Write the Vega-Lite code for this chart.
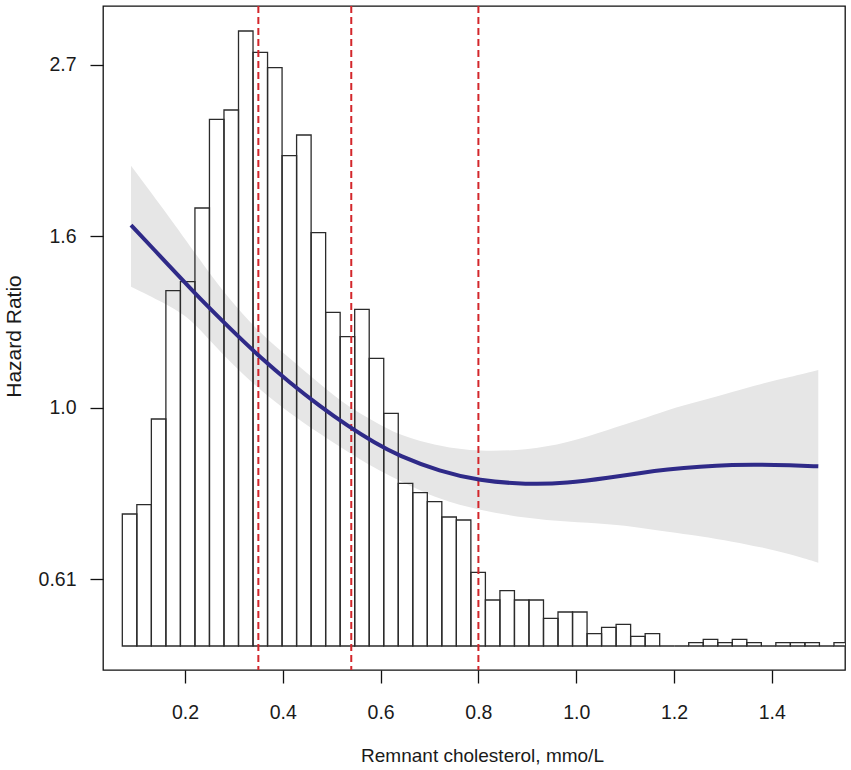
{
  "$schema": "https://vega.github.io/schema/vega-lite/v6.json",
  "width": 742,
  "height": 664,
  "autosize": "none",
  "padding": {"left": 103, "top": 6, "right": 6, "bottom": 100},
  "background": "white",
  "datasets": {
    "bins": [
      {"bin_start": 0.0718, "bin_end": 0.1015, "count": 132},
      {"bin_start": 0.1015, "bin_end": 0.1312, "count": 141.3},
      {"bin_start": 0.1312, "bin_end": 0.1609, "count": 227},
      {"bin_start": 0.1609, "bin_end": 0.1906, "count": 355.3},
      {"bin_start": 0.1906, "bin_end": 0.2203, "count": 364.3},
      {"bin_start": 0.2203, "bin_end": 0.25, "count": 438},
      {"bin_start": 0.25, "bin_end": 0.2797, "count": 526.7},
      {"bin_start": 0.2797, "bin_end": 0.3094, "count": 536},
      {"bin_start": 0.3094, "bin_end": 0.3391, "count": 615},
      {"bin_start": 0.3391, "bin_end": 0.3688, "count": 593.7},
      {"bin_start": 0.3688, "bin_end": 0.3985, "count": 578.3},
      {"bin_start": 0.3985, "bin_end": 0.4282, "count": 490.3},
      {"bin_start": 0.4282, "bin_end": 0.4579, "count": 511},
      {"bin_start": 0.4579, "bin_end": 0.4876, "count": 413.3},
      {"bin_start": 0.4876, "bin_end": 0.5173, "count": 333.7},
      {"bin_start": 0.5173, "bin_end": 0.547, "count": 309.3},
      {"bin_start": 0.547, "bin_end": 0.5767, "count": 336.7},
      {"bin_start": 0.5767, "bin_end": 0.6064, "count": 287.7},
      {"bin_start": 0.6064, "bin_end": 0.6361, "count": 232.7},
      {"bin_start": 0.6361, "bin_end": 0.6658, "count": 162.7},
      {"bin_start": 0.6658, "bin_end": 0.6955, "count": 153.3},
      {"bin_start": 0.6955, "bin_end": 0.7252, "count": 144.3},
      {"bin_start": 0.7252, "bin_end": 0.7549, "count": 129},
      {"bin_start": 0.7549, "bin_end": 0.7846, "count": 126},
      {"bin_start": 0.7846, "bin_end": 0.8143, "count": 73.7},
      {"bin_start": 0.8143, "bin_end": 0.844, "count": 46},
      {"bin_start": 0.844, "bin_end": 0.8737, "count": 55.3},
      {"bin_start": 0.8737, "bin_end": 0.9034, "count": 46},
      {"bin_start": 0.9034, "bin_end": 0.9331, "count": 46},
      {"bin_start": 0.9331, "bin_end": 0.9628, "count": 27.7},
      {"bin_start": 0.9628, "bin_end": 0.9925, "count": 34},
      {"bin_start": 0.9925, "bin_end": 1.0222, "count": 34},
      {"bin_start": 1.0222, "bin_end": 1.0519, "count": 12.3},
      {"bin_start": 1.0519, "bin_end": 1.0816, "count": 18.7},
      {"bin_start": 1.0816, "bin_end": 1.1113, "count": 21.7},
      {"bin_start": 1.1113, "bin_end": 1.141, "count": 9.7},
      {"bin_start": 1.141, "bin_end": 1.1707, "count": 12.3},
      {"bin_start": 1.1707, "bin_end": 1.2004, "count": 0},
      {"bin_start": 1.2004, "bin_end": 1.2301, "count": 0},
      {"bin_start": 1.2301, "bin_end": 1.2598, "count": 3.3},
      {"bin_start": 1.2598, "bin_end": 1.2895, "count": 6.7},
      {"bin_start": 1.2895, "bin_end": 1.3192, "count": 3.3},
      {"bin_start": 1.3192, "bin_end": 1.3489, "count": 6.7},
      {"bin_start": 1.3489, "bin_end": 1.3786, "count": 3.3},
      {"bin_start": 1.3786, "bin_end": 1.4083, "count": 0},
      {"bin_start": 1.4083, "bin_end": 1.438, "count": 3.3},
      {"bin_start": 1.438, "bin_end": 1.4677, "count": 3.3},
      {"bin_start": 1.4677, "bin_end": 1.4974, "count": 3.3},
      {"bin_start": 1.4974, "bin_end": 1.5271, "count": 0},
      {"bin_start": 1.5271, "bin_end": 1.5568, "count": 3.3}
    ],
    "spline": [
      {"rc": 0.0896, "hr": 1.7028, "lower": 1.4227, "upper": 2.0241},
      {"rc": 0.1591, "hr": 1.532, "lower": 1.3555, "upper": 1.7728},
      {"rc": 0.2, "hr": 1.4398, "lower": 1.3101, "upper": 1.6348},
      {"rc": 0.2354, "hr": 1.3647, "lower": 1.2478, "upper": 1.5231},
      {"rc": 0.2941, "hr": 1.2559, "lower": 1.1381, "upper": 1.3619},
      {"rc": 0.354, "hr": 1.1575, "lower": 1.0529, "upper": 1.2421},
      {"rc": 0.4141, "hr": 1.0762, "lower": 0.9838, "upper": 1.1548},
      {"rc": 0.474, "hr": 1.0064, "lower": 0.9281, "upper": 1.0737},
      {"rc": 0.5327, "hr": 0.9481, "lower": 0.8797, "upper": 1.0029},
      {"rc": 0.5885, "hr": 0.9022, "lower": 0.8381, "upper": 0.96},
      {"rc": 0.6362, "hr": 0.87, "lower": 0.81, "upper": 0.9236},
      {"rc": 0.7215, "hr": 0.8304, "lower": 0.7642, "upper": 0.8926},
      {"rc": 0.8012, "hr": 0.8089, "lower": 0.7422, "upper": 0.8797},
      {"rc": 0.8988, "hr": 0.7995, "lower": 0.7245, "upper": 0.884},
      {"rc": 0.9806, "hr": 0.8023, "lower": 0.7173, "upper": 0.9015},
      {"rc": 1.0691, "hr": 0.816, "lower": 0.7126, "upper": 0.9398},
      {"rc": 1.1305, "hr": 0.8267, "lower": 0.7053, "upper": 0.9648},
      {"rc": 1.1851, "hr": 0.8352, "lower": 0.6968, "upper": 0.9933},
      {"rc": 1.2532, "hr": 0.8426, "lower": 0.6881, "upper": 1.0197},
      {"rc": 1.3213, "hr": 0.8467, "lower": 0.6768, "upper": 1.0477},
      {"rc": 1.3759, "hr": 0.8472, "lower": 0.6664, "upper": 1.0715},
      {"rc": 1.4372, "hr": 0.8455, "lower": 0.6529, "upper": 1.0936},
      {"rc": 1.4951, "hr": 0.8431, "lower": 0.6366, "upper": 1.1161}
    ],
    "cutoffs": [
      {"rc": 0.35},
      {"rc": 0.54},
      {"rc": 0.8}
    ]
  },
  "layer": [
    {
      "data": {"name": "bins"},
      "mark": {"type": "rect", "fill": "white", "strokeWidth": 0, "clip": true},
      "encoding": {
        "x": {
          "field": "bin_start", "type": "quantitative",
          "scale": {"domain": [0.0323, 1.5497], "nice": false, "zero": false},
          "axis": {"title": "Remnant cholesterol, mmo/L", "values": [0.2, 0.4, 0.6, 0.8, 1.0, 1.2, 1.4], "format": ".1f", "tickSize": 13, "labelPadding": 35, "labelBaseline": "alphabetic", "titleX": 379, "titleY": 91, "titleBaseline": "alphabetic"}
        },
        "x2": {"field": "bin_end"},
        "y": {"field": "count", "type": "quantitative", "scale": {"domain": [-24, 640], "nice": false}, "axis": null},
        "y2": {"datum": 0}
      }
    },
    {
      "data": {"name": "spline"},
      "mark": {"type": "area", "fill": "#e6e6e6", "interpolate": "basis"},
      "encoding": {
        "x": {
          "field": "rc", "type": "quantitative",
          "scale": {"domain": [0.0323, 1.5497], "nice": false, "zero": false},
          "axis": {"title": "Remnant cholesterol, mmo/L", "values": [0.2, 0.4, 0.6, 0.8, 1.0, 1.2, 1.4], "format": ".1f", "tickSize": 13, "labelPadding": 35, "labelBaseline": "alphabetic", "titleX": 379, "titleY": 91, "titleBaseline": "alphabetic"}
        },
        "y": {"field": "lower", "type": "quantitative", "scale": {"type": "log", "base": 2.718281828, "domain": [0.4657, 3.2236], "nice": false, "zero": false}, "axis": null},
        "y2": {"field": "upper"}
      }
    },
    {
      "data": {"name": "bins"},
      "mark": {"type": "rect", "fillOpacity": 0, "stroke": "#2b2b2b", "strokeWidth": 1.3, "clip": true},
      "encoding": {
        "x": {
          "field": "bin_start", "type": "quantitative",
          "scale": {"domain": [0.0323, 1.5497], "nice": false, "zero": false},
          "axis": {"title": "Remnant cholesterol, mmo/L", "values": [0.2, 0.4, 0.6, 0.8, 1.0, 1.2, 1.4], "format": ".1f", "tickSize": 13, "labelPadding": 35, "labelBaseline": "alphabetic", "titleX": 379, "titleY": 91, "titleBaseline": "alphabetic"}
        },
        "x2": {"field": "bin_end"},
        "y": {"field": "count", "type": "quantitative", "scale": {"domain": [-24, 640], "nice": false}, "axis": null},
        "y2": {"datum": 0}
      }
    },
    {
      "mark": {"type": "rule", "color": "#111111", "strokeWidth": 1.4, "strokeDash": [6, 4]},
      "encoding": {
        "y": {"datum": 1, "type": "quantitative", "scale": {"type": "log", "base": 2.718281828, "domain": [0.4657, 3.2236], "nice": false, "zero": false}, "axis": null}
      }
    },
    {
      "data": {"name": "cutoffs"},
      "mark": {"type": "rule", "color": "#d3262b", "strokeWidth": 2, "strokeDash": [7, 4]},
      "encoding": {
        "x": {
          "field": "rc", "type": "quantitative",
          "scale": {"domain": [0.0323, 1.5497], "nice": false, "zero": false},
          "axis": {"title": "Remnant cholesterol, mmo/L", "values": [0.2, 0.4, 0.6, 0.8, 1.0, 1.2, 1.4], "format": ".1f", "tickSize": 13, "labelPadding": 35, "labelBaseline": "alphabetic", "titleX": 379, "titleY": 91, "titleBaseline": "alphabetic"}
        }
      }
    },
    {
      "data": {"name": "spline"},
      "mark": {"type": "line", "color": "#2f2a88", "strokeWidth": 4, "interpolate": "basis"},
      "encoding": {
        "x": {
          "field": "rc", "type": "quantitative",
          "scale": {"domain": [0.0323, 1.5497], "nice": false, "zero": false},
          "axis": {"title": "Remnant cholesterol, mmo/L", "values": [0.2, 0.4, 0.6, 0.8, 1.0, 1.2, 1.4], "format": ".1f", "tickSize": 13, "labelPadding": 35, "labelBaseline": "alphabetic", "titleX": 379, "titleY": 91, "titleBaseline": "alphabetic"}
        },
        "y": {
          "field": "hr",
          "type": "quantitative",
          "scale": {"type": "log", "base": 2.718281828, "domain": [0.4657, 3.2236], "nice": false, "zero": false},
          "axis": {
            "title": "Hazard Ratio",
            "values": [0.60653, 1, 1.64872, 2.71828],
            "format": ".2r",
            "tickSize": 13,
            "labelPadding": 14,
            "titleX": -83,
            "titleY": 330,
            "titleFontSize": 21,
            "titleBaseline": "alphabetic",
            "titleAlign": "center"
          }
        }
      }
    }
  ],
  "resolve": {"scale": {"y": "independent"}},
  "config": {
    "font": "Liberation Sans",
    "view": {"stroke": "#111111", "strokeWidth": 1.3},
    "axis": {
      "grid": false,
      "domain": false,
      "ticks": true,
      "tickColor": "#111111",
      "tickWidth": 1.3,
      "labelFont": "Liberation Sans",
      "labelFontSize": 19.5,
      "labelColor": "#1a1a1a",
      "titleFont": "Liberation Sans",
      "titleFontSize": 19,
      "titleFontWeight": "normal",
      "titleColor": "#1a1a1a"
    }
  }
}
